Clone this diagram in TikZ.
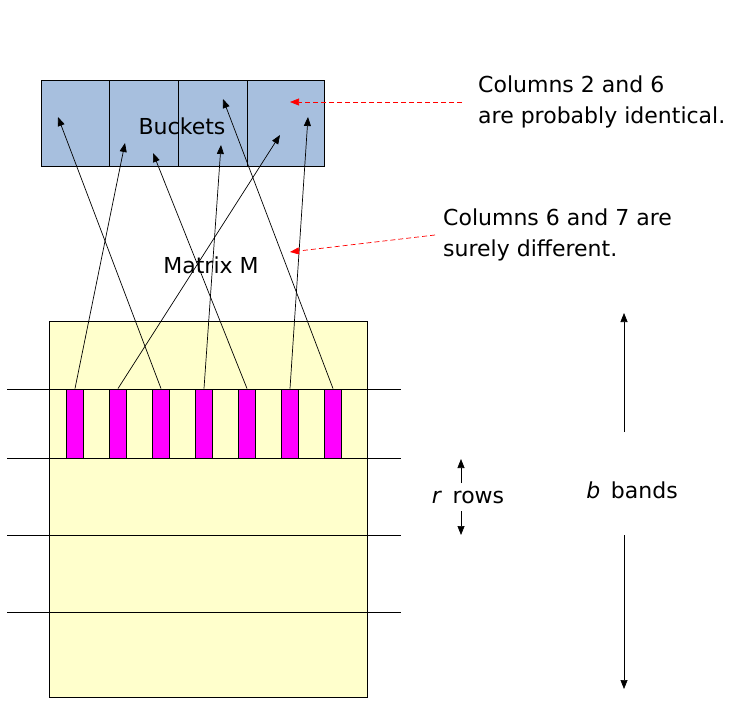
\documentclass[tikz,border=0pt]{standalone}
\usepackage{fontspec}
\setmainfont{DejaVu Sans}
\usepackage{tikz}
\usetikzlibrary{arrows.meta,positioning}

\definecolor{bucketblue}{RGB}{167,191,222}
\definecolor{matyellow}{RGB}{255,255,204}
\definecolor{barpink}{RGB}{255,0,255}

\begin{document}
\begin{tikzpicture}[x=1pt, y=-1pt, >={Triangle[length=9pt,width=7pt]},
    font=\fontsize{22}{31}\selectfont,
    bucket/.style={draw, line width=0.9pt, fill=bucketblue, minimum width=283pt, minimum height=86pt, inner sep=0pt},
    matbox/.style={draw, line width=0.9pt, fill=matyellow, minimum width=318pt, minimum height=376pt, inner sep=0pt},
    bar/.style={draw, line width=0.9pt, fill=barpink, minimum width=17pt, minimum height=69pt, inner sep=0pt},
    hash/.style={->, line width=0.7pt},
    note/.style={->, red, dash pattern=on 5pt off 3pt, line width=0.7pt},
    txt/.style={align=left, inner sep=0pt}]
  \useasboundingbox (0,0) rectangle (735,709);
  % buckets
  \node[bucket] (bk) at (182.5,123) {};
  \foreach \x in {109,178,247}
    \draw[line width=0.9pt] (\x,80) -- (\x,166);
  \node (blabel) at (182,126) {Buckets};
  % matrix and bands
  \node[matbox] (M) at (208,509) {};
  \foreach \y in {389,458,535,612}
    \draw[line width=0.9pt] (7,\y) -- (401,\y);
  \node (mlabel) at (211,265) {Matrix M};
  \foreach \i/\x in {1/75,2/118,3/161,4/204,5/247,6/290,7/333}
    \node[bar] (c\i) at (\x,423.5) {};
  % hash targets
  \coordinate (h1) at (125,143);
  \coordinate (h2) at (280,135);
  \coordinate (h3) at (58,117);
  \coordinate (h4) at (221,145);
  \coordinate (h5) at (153,153);
  \coordinate (h6) at (308,117);
  \coordinate (h7) at (223,99);
  \foreach \i in {1,...,7}
    \draw[hash] (c\i.north) -- (h\i);
  % notes
  \node[txt, anchor=north west] (n1) at (478,76) {Columns 2 and 6\\are probably identical.};
  \node[txt, anchor=north west] (n2) at (443,209) {Columns 6 and 7 are\\surely different.};
  \coordinate (s1) at (462,102);
  \coordinate (e1) at (290,102);
  \coordinate (s2) at (435,235);
  \coordinate (e2) at (290,252);
  \draw[note] (s1) -- (e1);
  \draw[note] (s2) -- (e2);
  % r rows, b bands
  \node (rr) at (468,497) {\textit{r}\ \,rows};
  \coordinate (ru) at (461,459);
  \coordinate (rd) at (461,535);
  \draw[hash] (461,483) -- (ru);
  \draw[hash] (461,511) -- (rd);
  \node (bb) at (632,490) {\textit{b}\ \,bands};
  \coordinate (bu) at (624,313);
  \coordinate (bd) at (624,689);
  \draw[hash] (624,432) -- (bu);
  \draw[hash] (624,535) -- (bd);
\end{tikzpicture}
\end{document}
